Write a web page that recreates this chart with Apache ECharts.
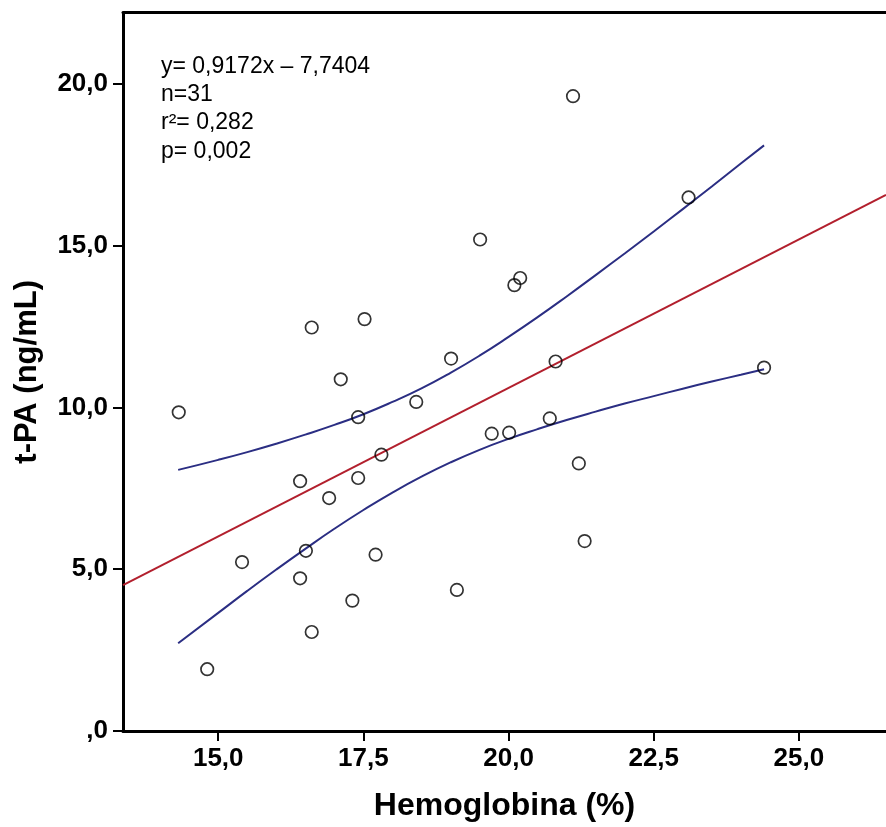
<!DOCTYPE html>
<html>
<head>
<meta charset="utf-8">
<script src="https://cdn.jsdelivr.net/npm/echarts@6/dist/echarts.min.js"></script>
<style>html,body{margin:0;padding:0;background:#fff;overflow:hidden;}#c{width:886px;height:827px;}</style>
</head>
<body>
<div id="c"></div>
<script>
// Scatter data: Hemoglobina (%) vs t-PA (ng/mL)
var hb = [16.61, 17.52, 17.11, 18.41, 19.01, 14.32, 17.41, 21.11, 19.51, 20.20, 20.10, 23.10, 20.81, 24.40, 20.71, 17.81,
          16.41, 17.41, 16.91, 16.51, 15.41, 17.71, 16.41, 17.31, 16.61, 14.81, 19.71, 20.01, 21.21, 21.31, 19.11];
var tpa = [12.47, 12.73, 10.87, 10.17, 11.51, 9.85, 9.70, 19.62, 15.19, 14.00, 13.78, 16.49, 11.42, 11.23, 9.66, 8.54,
           7.72, 7.82, 7.20, 5.57, 5.22, 5.45, 4.72, 4.03, 3.06, 1.91, 9.19, 9.22, 8.27, 5.87, 4.36];

// Fit line (read at the plot edges)
var fitX = [13.36, 26.5];
var fitY = [4.51, 16.57];

// 95% confidence curves
var bandX = [14.31, 15, 15.5, 16, 16.5, 17, 17.5, 18, 18.5, 19, 19.5, 20, 20.5, 21, 21.5, 22, 22.5, 23, 23.5, 24, 24.4];
var upY = [8.07, 8.38, 8.62, 8.88, 9.16, 9.46, 9.79, 10.17, 10.59, 11.07, 11.60, 12.18, 12.79, 13.43, 14.09, 14.76, 15.44, 16.13, 16.83, 17.54, 18.10];
var loY = [2.71, 3.65, 4.33, 4.99, 5.63, 6.25, 6.83, 7.37, 7.86, 8.30, 8.69, 9.03, 9.33, 9.61, 9.87, 10.12, 10.35, 10.58, 10.80, 11.01, 11.18];

// Tick labels
var xTickValues = [15, 17.5, 20, 22.5, 25];
var xTickLabels = ['15,0', '17,5', '20,0', '22,5', '25,0'];
var yTickValues = [0, 5, 10, 15, 20];
var yTickLabels = [',0', '5,0', '10,0', '15,0', '20,0'];

var annotLines = ['y= 0,9172x \u2013 7,7404', 'n=31', 'r\u00b2= 0,282', 'p= 0,002'];

function zip(a, b) { return a.map(function (v, i) { return [v, b[i]]; }); }

var FONT = '"Liberation Sans", Arial, sans-serif';
var chart = echarts.init(document.getElementById('c'), null, { renderer: 'canvas' });

var graphics = annotLines.map(function (t, i) {
  return {
    type: 'text', left: 161, top: 55 + i * 28.3, z: 10,
    style: { text: t, font: '23px ' + FONT, fill: '#000' }
  };
});

var X_MIN = 13.36, X_MAX = 26.5;

chart.setOption({
  animation: false,
  backgroundColor: '#fff',
  grid: { left: 123, top: 12.7, right: 0, bottom: 94.7, show: false, containLabel: false },
  xAxis: [{
    type: 'value', min: X_MIN, max: X_MAX, position: 'bottom',
    name: 'Hemoglobina (%)', nameLocation: 'middle', nameGap: 59,
    nameTextStyle: { fontFamily: FONT, fontWeight: 'bold', fontSize: 32, color: '#000' },
    axisLine: { show: true, onZero: false, lineStyle: { color: '#000', width: 3 } },
    axisTick: { show: true, inside: false, length: 10, lineStyle: { color: '#000', width: 2 }, customValues: xTickValues },
    axisLabel: {
      customValues: xTickValues, margin: 15,
      fontFamily: FONT, fontWeight: 'bold', fontSize: 26, color: '#000',
      formatter: function (v) { var i = xTickValues.indexOf(v); return i >= 0 ? xTickLabels[i] : ''; }
    },
    splitLine: { show: false }
  }, {
    type: 'value', min: X_MIN, max: X_MAX, position: 'top',
    axisLine: { show: true, onZero: false, lineStyle: { color: '#000', width: 3 } },
    axisTick: { show: false }, axisLabel: { show: false }, splitLine: { show: false }
  }],
  yAxis: {
    type: 'value', min: 0, max: 22.2,
    name: 't-PA (ng/mL)', nameLocation: 'middle', nameGap: 80,
    nameTextStyle: { fontFamily: FONT, fontWeight: 'bold', fontSize: 31, color: '#000' },
    axisLine: { show: true, onZero: false, lineStyle: { color: '#000', width: 3 } },
    axisTick: { show: true, inside: false, length: 10, lineStyle: { color: '#000', width: 2 }, customValues: yTickValues },
    axisLabel: {
      customValues: yTickValues, margin: 15,
      fontFamily: FONT, fontWeight: 'bold', fontSize: 26, color: '#000',
      formatter: function (v) { var i = yTickValues.indexOf(v); return i >= 0 ? yTickLabels[i] : ''; }
    },
    splitLine: { show: false }
  },
  graphic: graphics,
  series: [
    {
      type: 'line', data: zip(fitX, fitY), symbol: 'none', z: 2,
      lineStyle: { color: '#b21f2d', width: 2 }
    },
    {
      type: 'line', data: zip(bandX, upY), symbol: 'none', smooth: true, z: 2,
      lineStyle: { color: '#2b2e83', width: 2 }
    },
    {
      type: 'line', data: zip(bandX, loY), symbol: 'none', smooth: true, z: 2,
      lineStyle: { color: '#2b2e83', width: 2 }
    },
    {
      type: 'scatter', data: zip(hb, tpa), symbol: 'circle', symbolSize: 12.5, z: 5,
      itemStyle: { color: 'rgba(255,255,255,0)', borderColor: '#000', borderWidth: 1.7 }
    }
  ]
});
</script>
</body>
</html>
